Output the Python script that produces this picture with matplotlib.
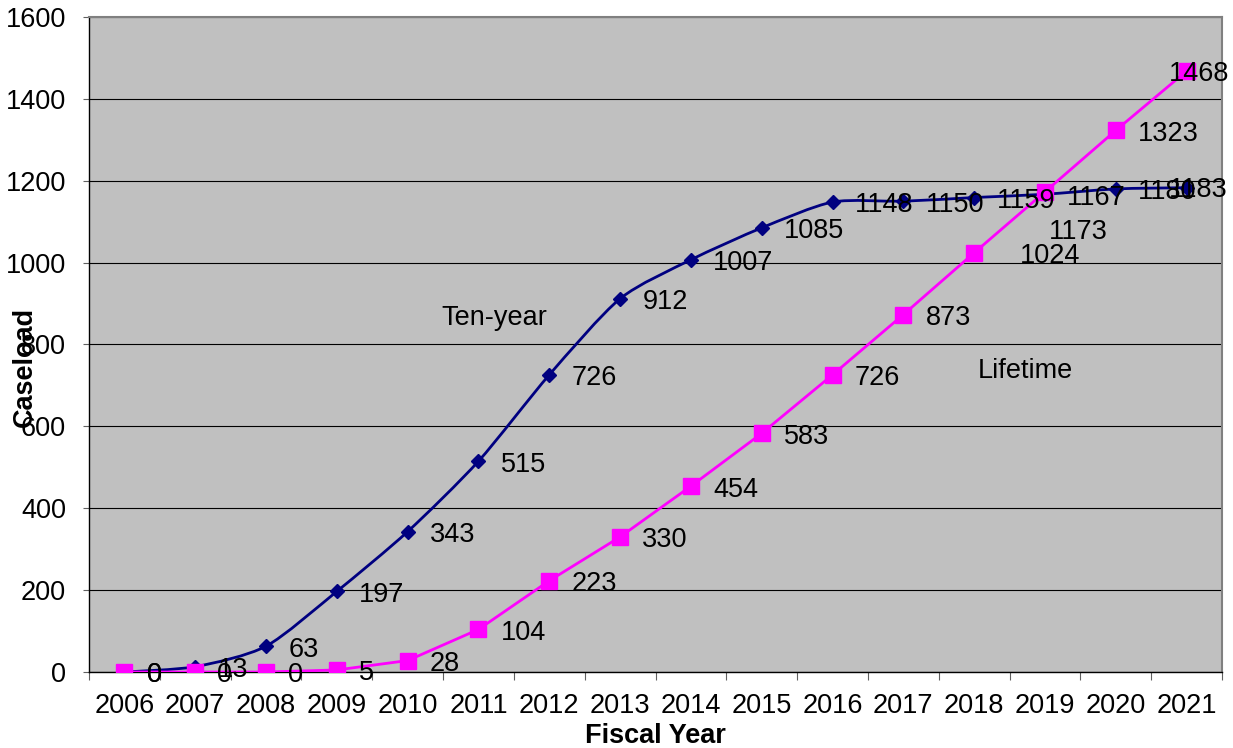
import numpy as np
import matplotlib
matplotlib.use("Agg")
from matplotlib import pyplot as plt
from matplotlib.path import Path
from matplotlib.patches import PathPatch

plt.rcParams['font.family'] = ['Liberation Sans', 'DejaVu Sans']

# Datos
years = ['2006', '2007', '2008', '2009', '2010', '2011', '2012', '2013',
         '2014', '2015', '2016', '2017', '2018', '2019', '2020', '2021']
ten_year = [0, 13, 63, 197, 343, 515, 726, 912, 1007, 1085, 1148, 1150,
            1159, 1167, 1180, 1183]
lifetime = [0, 0, 0, 5, 28, 104, 223, 330, 454, 583, 726, 873, 1024,
            1173, 1323, 1468]

navy = '#000080'
magenta = '#FF00FF'

fig = plt.figure(figsize=(12.33, 7.48), dpi=100)
ax = fig.add_axes([0.0722, 0.1016, 0.9189, 0.8757])
ax.set_facecolor('#C0C0C0')

x = np.arange(len(years)) + 0.5

# Curva suavizada (estilo Excel) para la serie de diez anios
def smooth_path(xs, ys, k=8):
    pts = np.column_stack([xs, ys]).astype(float)
    verts = [pts[0]]
    codes = [Path.MOVETO]
    n = len(pts)
    for i in range(n - 1):
        p0 = pts[i - 1] if i > 0 else pts[i]
        p1 = pts[i]
        p2 = pts[i + 1]
        p3 = pts[i + 2] if i + 2 < n else pts[i + 1]
        c1 = p1 + (p2 - p0) / k
        c2 = p2 - (p3 - p1) / k
        verts += [c1, c2, p2]
        codes += [Path.CURVE4] * 3
    return Path(verts, codes)

ax.add_patch(PathPatch(smooth_path(x, ten_year), fill=False, edgecolor=navy,
                       lw=2, zorder=3))
ax.plot(x, ten_year, ls='none', marker='D', ms=7, color=navy, zorder=4)
ax.plot(x, lifetime, color=magenta, lw=2, marker='s', ms=11, zorder=4)

# Etiquetas de datos (desplazamiento en puntos)
lab_fs = 19.5
default_off = (16, -2.5)
ten_off = {15: (-13, -2)}
life_off = {12: (33, -2.5), 13: (3, -29), 15: (-13, -2)}
for i, v in enumerate(ten_year):
    dx, dy = ten_off.get(i, default_off)
    ax.annotate(str(v), (x[i], v), xytext=(dx, dy), textcoords='offset points',
                ha='left', va='center', fontsize=lab_fs, zorder=5)
for i, v in enumerate(lifetime):
    dx, dy = life_off.get(i, default_off)
    ax.annotate(str(v), (x[i], v), xytext=(dx, dy), textcoords='offset points',
                ha='left', va='center', fontsize=lab_fs, zorder=5)

ax.text(4.98, 865, 'Ten-year', fontsize=19.5, ha='left', va='center')
ax.text(12.55, 735, 'Lifetime', fontsize=19.5, ha='left', va='center')

# Ejes
ax.set_xlim(0, len(years))
ax.set_ylim(0, 1600)
ax.set_yticks(np.arange(0, 1601, 200))
ax.yaxis.grid(True, color='black', lw=0.8)
ax.set_axisbelow(True)
ax.set_xticks(np.arange(0, len(years) + 1))
ax.set_xticklabels([])
ax.set_xticks(x, minor=True)
ax.set_xticklabels(years, minor=True)
ax.tick_params(axis='x', which='major', length=6, color='#606060', direction='out')
ax.tick_params(axis='x', which='minor', length=0, labelsize=19.5, pad=15)
ax.tick_params(axis='y', length=4.5, labelsize=19.5, color='#606060', pad=12)

for s in ['top', 'right']:
    ax.spines[s].set_color('#808080')
    ax.spines[s].set_linewidth(1.5)
for s in ['left', 'bottom']:
    ax.spines[s].set_color('black')
    ax.spines[s].set_linewidth(1)

ax.set_xlabel('Fiscal Year', fontsize=19.5, fontweight='bold', labelpad=3)
ax.set_ylabel('Caseload', fontsize=19.5, fontweight='bold')
ax.yaxis.set_label_coords(-0.045, 0.466)

fig.savefig('out.png', dpi=100, facecolor='white')
